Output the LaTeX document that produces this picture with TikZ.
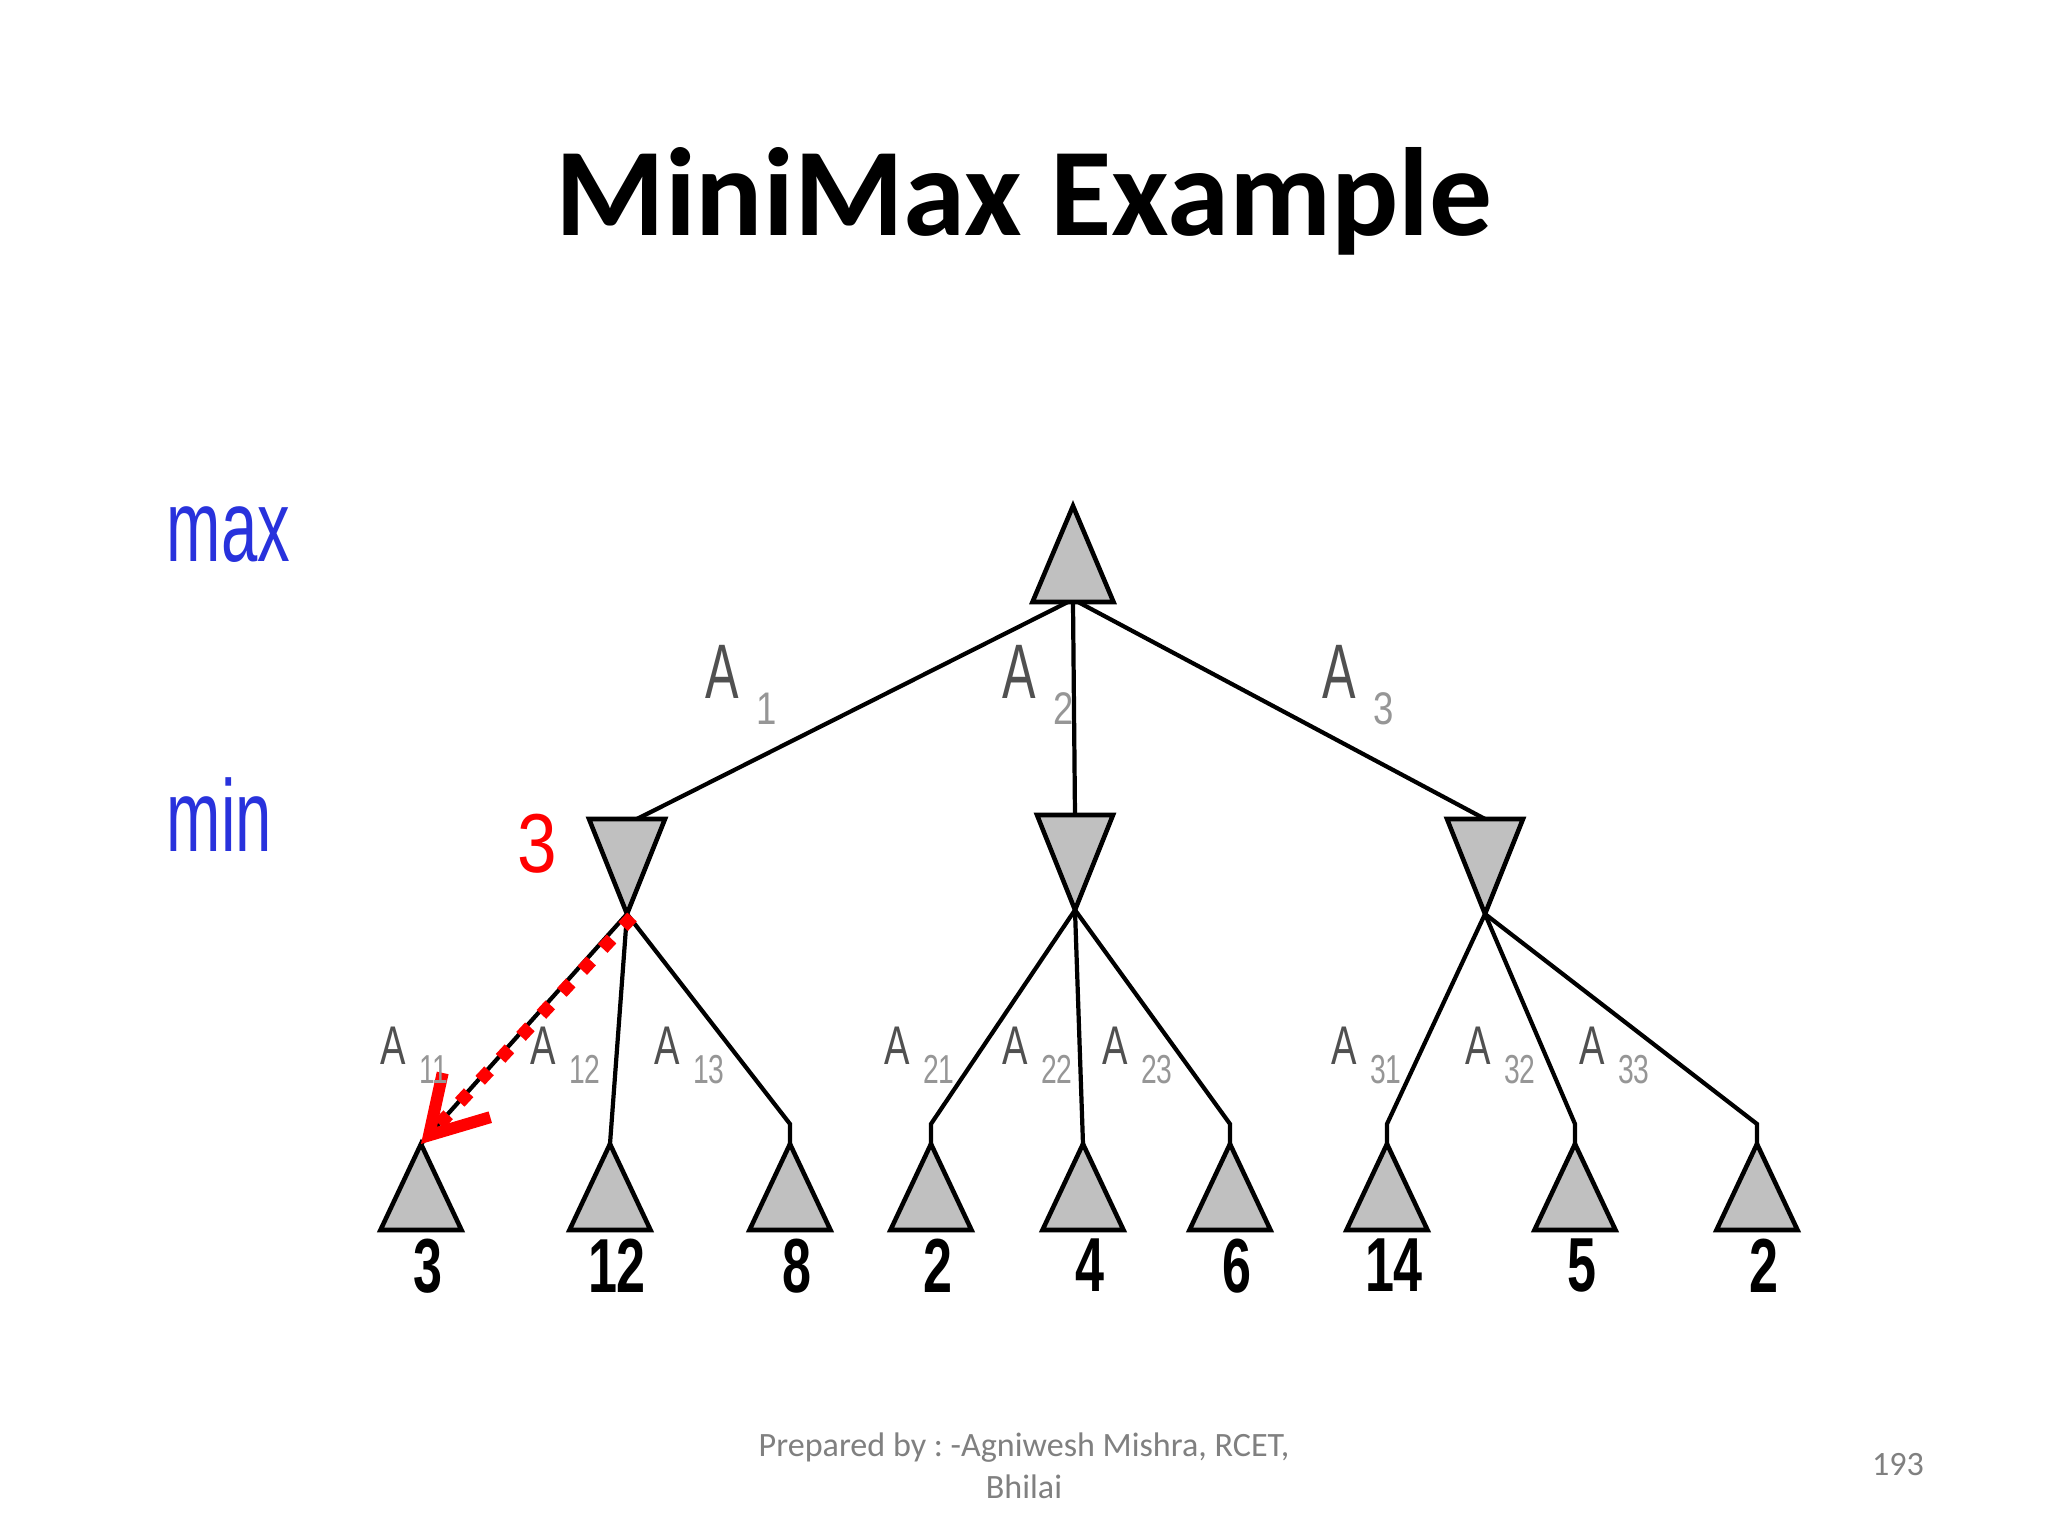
\documentclass[tikz,border=0pt]{standalone}
\usepackage{fontspec}
\setmainfont{Liberation Sans}
\newfontfamily\slidefont{Carlito}
\usetikzlibrary{shapes.geometric,arrows.meta}
\definecolor{trifill}{RGB}{192,192,192}
\definecolor{levelblue}{RGB}{40,50,220}
\definecolor{labgray}{RGB}{80,80,80}
\definecolor{subgray}{RGB}{150,150,150}
\definecolor{footgray}{RGB}{128,128,128}
\frenchspacing
\newcommand{\narrow}[2]{\scalebox{#1}[1]{#2}}
\newcommand{\topact}[1]{\textcolor{labgray}{\narrow{0.65}{A}}\hspace{0.17cm}\raisebox{-0.26cm}{\textcolor{subgray}{\fontsize{13}{13}\selectfont\narrow{0.8}{#1}}}}
\newcommand{\lowact}[1]{\textcolor{labgray}{\narrow{0.7}{A}}\hspace{0.13cm}\raisebox{-0.19cm}{\textcolor{subgray}{\fontsize{11.5}{11.5}\selectfont\narrow{0.7}{#1}}}}
\tikzset{
  tri/.style={isosceles triangle,isosceles triangle stretches,draw=black,fill=trifill,
    line width=1.3pt,inner sep=0pt,outer sep=0pt},
  maxtri/.style={tri,shape border rotate=90,minimum width=0.81cm,minimum height=0.96cm},
  mintri/.style={tri,shape border rotate=-90,minimum width=0.76cm,minimum height=0.95cm},
  leaftri/.style={tri,shape border rotate=90,minimum width=0.81cm,minimum height=0.86cm},
  edge/.style={line width=1.2pt},
  val/.style={anchor=north,inner sep=0pt,font=\fontsize{21.8}{22}\selectfont\bfseries},
  toplab/.style={anchor=base west,inner sep=0pt,font=\fontsize{22}{22}\selectfont},
  lowlab/.style={anchor=base west,inner sep=0pt,font=\fontsize{15.5}{16}\selectfont},
  level/.style={anchor=base west,inner sep=0pt,text=levelblue,font=\fontsize{29}{29}\selectfont},
  choice/.style={red,line width=0.13cm,dash pattern=on 0.13cm off 0.17cm,
    -{Straight Barb[length=0.55cm,width=0.65cm,line width=0.12cm]}}
}
\begin{document}
\begin{tikzpicture}
\fill[white] (0,0) rectangle (20.48,15.36);
\useasboundingbox (0,0) rectangle (20.48,15.36);
% title and footer
\node[anchor=base,inner sep=0pt,font=\slidefont\fontsize{35.7}{36}\selectfont\bfseries] (title) at (10.24,13.0) {MiniMax Example};
\node[align=center,inner sep=0pt,text=footgray,font=\slidefont\fontsize{9.7}{12}\selectfont] (foot) at (10.24,0.70) {Prepared by : -Agniwesh Mishra, RCET,\\Bhilai};
\node[inner sep=0pt,text=footgray,font=\slidefont\fontsize{9.7}{12}\selectfont] (page) at (18.98,0.71) {193};
% levels
\node[level] (maxlab) at (1.66,9.74) {\narrow{0.64}{max}};
\node[level] (minlab) at (1.66,6.84) {\narrow{0.64}{min}};
% tree
\node[maxtri,anchor=apex] (root) at (10.73,10.30) {};
\node[mintri,anchor=apex] (m1) at (6.27,6.22) {};
\node[mintri,anchor=apex] (m2) at (10.75,6.26) {};
\node[mintri,anchor=apex] (m3) at (14.85,6.22) {};
\node[leaftri,anchor=apex] (l1) at (4.21,3.92) {};
\node[leaftri,anchor=apex] (l2) at (6.10,3.92) {};
\node[leaftri,anchor=apex] (l3) at (7.90,3.92) {};
\node[leaftri,anchor=apex] (l4) at (9.31,3.92) {};
\node[leaftri,anchor=apex] (l5) at (10.83,3.92) {};
\node[leaftri,anchor=apex] (l6) at (12.30,3.92) {};
\node[leaftri,anchor=apex] (l7) at (13.87,3.92) {};
\node[leaftri,anchor=apex] (l8) at (15.75,3.92) {};
\node[leaftri,anchor=apex] (l9) at (17.57,3.92) {};
\draw[edge] ([xshift=-0.05cm]root.lower side) -- ([xshift=0.1cm]m1.lower side);
\draw[edge] (root.lower side) -- (m2.lower side);
\draw[edge] ([xshift=0.05cm]root.lower side) -- (m3.lower side);
\draw[edge] (m1.apex) -- (l1.apex);
\draw[edge] (m1.apex) -- (l2.apex);
\draw[edge] (m1.apex) -- ([yshift=0.2cm]l3.apex) -- (l3.apex);
\draw[edge] (m2.apex) -- ([yshift=0.2cm]l4.apex) -- (l4.apex);
\draw[edge] (m2.apex) -- (l5.apex);
\draw[edge] (m2.apex) -- ([yshift=0.2cm]l6.apex) -- (l6.apex);
\draw[edge] (m3.apex) -- ([yshift=0.2cm]l7.apex) -- (l7.apex);
\draw[edge] (m3.apex) -- ([yshift=0.2cm]l8.apex) -- (l8.apex);
\draw[edge] (m3.apex) -- ([yshift=0.2cm]l9.apex) -- (l9.apex);
\draw[choice] ([xshift=0.05cm,yshift=-0.03cm]m1.apex) -- (l1.apex);
% values
\node[text=red,anchor=base,inner sep=0pt,font=\fontsize{23.8}{24}\selectfont] (m1val) at (5.37,6.63) {\narrow{0.85}{3}};
\node[val] (v1) at ([xshift=0.07cm,yshift=-0.08cm]l1.lower side) {\narrow{0.68}{3}};
\node[val] (v2) at ([xshift=0.07cm,yshift=-0.08cm]l2.lower side) {\narrow{0.68}{12}};
\node[val] (v3) at ([xshift=0.07cm,yshift=-0.08cm]l3.lower side) {\narrow{0.68}{8}};
\node[val] (v4) at ([xshift=0.07cm,yshift=-0.08cm]l4.lower side) {\narrow{0.68}{2}};
\node[val] (v5) at ([xshift=0.07cm,yshift=-0.08cm]l5.lower side) {\narrow{0.68}{4}};
\node[val] (v6) at ([xshift=0.07cm,yshift=-0.08cm]l6.lower side) {\narrow{0.68}{6}};
\node[val] (v7) at ([xshift=0.07cm,yshift=-0.08cm]l7.lower side) {\narrow{0.68}{14}};
\node[val] (v8) at ([xshift=0.07cm,yshift=-0.08cm]l8.lower side) {\narrow{0.68}{5}};
\node[val] (v9) at ([xshift=0.07cm,yshift=-0.08cm]l9.lower side) {\narrow{0.68}{2}};
% move labels
\node[toplab] (a1) at (7.05,8.37) {\topact{1}};
\node[toplab] (a2) at (10.02,8.37) {\topact{2}};
\node[toplab] (a3) at (13.22,8.37) {\topact{3}};
\node[lowlab] (a11) at (3.80,4.71) {\lowact{11}};
\node[lowlab] (a12) at (5.30,4.71) {\lowact{12}};
\node[lowlab] (a13) at (6.54,4.71) {\lowact{13}};
\node[lowlab] (a21) at (8.84,4.71) {\lowact{21}};
\node[lowlab] (a22) at (10.02,4.71) {\lowact{22}};
\node[lowlab] (a23) at (11.02,4.71) {\lowact{23}};
\node[lowlab] (a31) at (13.31,4.71) {\lowact{31}};
\node[lowlab] (a32) at (14.65,4.71) {\lowact{32}};
\node[lowlab] (a33) at (15.79,4.71) {\lowact{33}};
\end{tikzpicture}
\end{document}
